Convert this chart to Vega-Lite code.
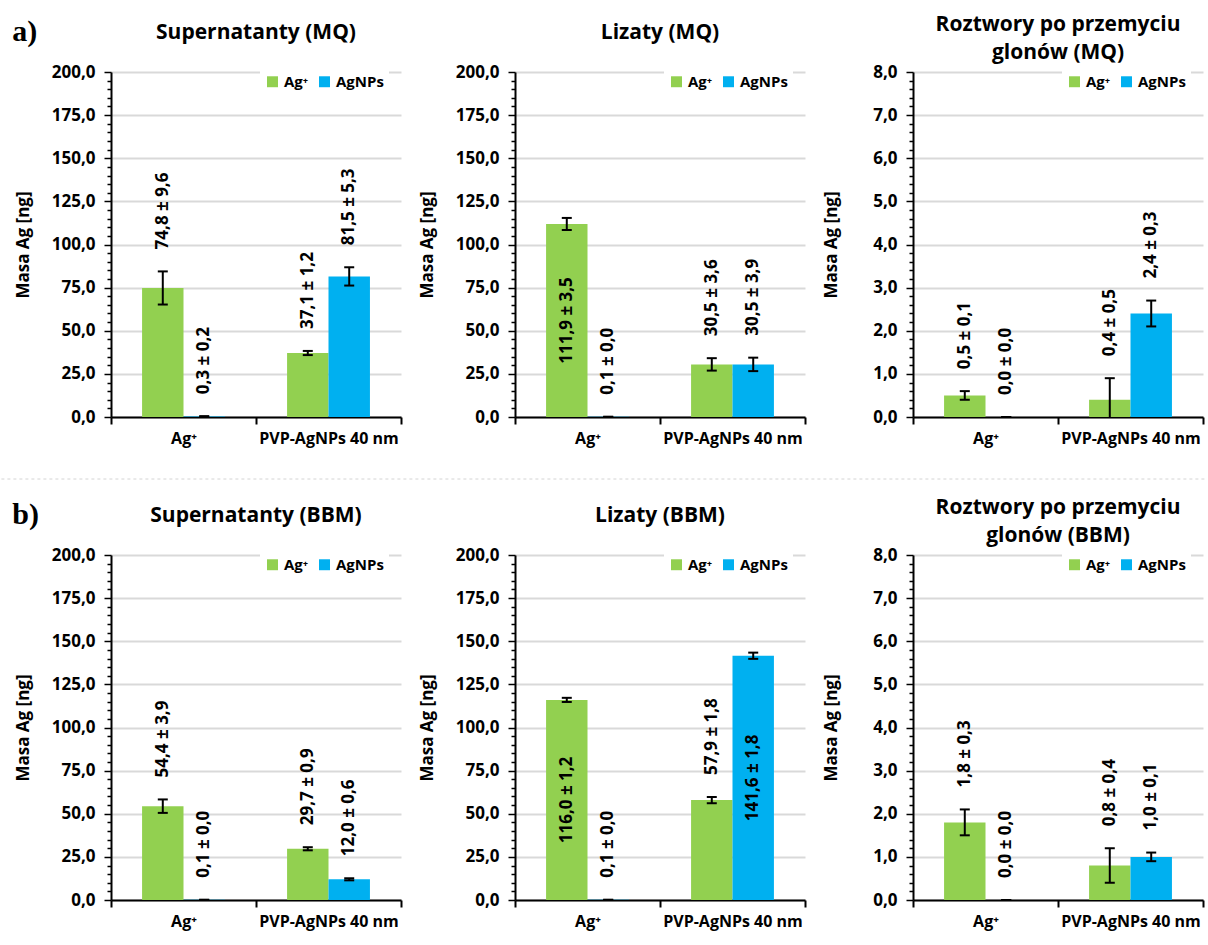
{
  "$schema": "https://vega.github.io/schema/vega-lite/v6.json",
  "padding": {"left": 0, "top": 14, "right": 2, "bottom": 2},
  "background": "white",
  "data": {
    "values": [
      {"panel": "a1", "group": "Ag⁺", "series": "Ag⁺", "value": 74.8, "err": 9.6},
      {"panel": "a1", "group": "Ag⁺", "series": "AgNPs", "value": 0.3, "err": 0.2},
      {"panel": "a1", "group": "PVP-AgNPs 40 nm", "series": "Ag⁺", "value": 37.1, "err": 1.2},
      {"panel": "a1", "group": "PVP-AgNPs 40 nm", "series": "AgNPs", "value": 81.5, "err": 5.3},
      {"panel": "a2", "group": "Ag⁺", "series": "Ag⁺", "value": 111.9, "err": 3.5},
      {"panel": "a2", "group": "Ag⁺", "series": "AgNPs", "value": 0.1, "err": 0.0},
      {"panel": "a2", "group": "PVP-AgNPs 40 nm", "series": "Ag⁺", "value": 30.5, "err": 3.6},
      {"panel": "a2", "group": "PVP-AgNPs 40 nm", "series": "AgNPs", "value": 30.5, "err": 3.9},
      {"panel": "a3", "group": "Ag⁺", "series": "Ag⁺", "value": 0.5, "err": 0.1},
      {"panel": "a3", "group": "Ag⁺", "series": "AgNPs", "value": 0.0, "err": 0.0},
      {"panel": "a3", "group": "PVP-AgNPs 40 nm", "series": "Ag⁺", "value": 0.4, "err": 0.5},
      {"panel": "a3", "group": "PVP-AgNPs 40 nm", "series": "AgNPs", "value": 2.4, "err": 0.3},
      {"panel": "b1", "group": "Ag⁺", "series": "Ag⁺", "value": 54.4, "err": 3.9},
      {"panel": "b1", "group": "Ag⁺", "series": "AgNPs", "value": 0.1, "err": 0.0},
      {"panel": "b1", "group": "PVP-AgNPs 40 nm", "series": "Ag⁺", "value": 29.7, "err": 0.9},
      {"panel": "b1", "group": "PVP-AgNPs 40 nm", "series": "AgNPs", "value": 12.0, "err": 0.6},
      {"panel": "b2", "group": "Ag⁺", "series": "Ag⁺", "value": 116.0, "err": 1.2},
      {"panel": "b2", "group": "Ag⁺", "series": "AgNPs", "value": 0.1, "err": 0.0},
      {"panel": "b2", "group": "PVP-AgNPs 40 nm", "series": "Ag⁺", "value": 57.9, "err": 1.8},
      {"panel": "b2", "group": "PVP-AgNPs 40 nm", "series": "AgNPs", "value": 141.6, "err": 1.8},
      {"panel": "b3", "group": "Ag⁺", "series": "Ag⁺", "value": 1.8, "err": 0.3},
      {"panel": "b3", "group": "Ag⁺", "series": "AgNPs", "value": 0.0, "err": 0.0},
      {"panel": "b3", "group": "PVP-AgNPs 40 nm", "series": "Ag⁺", "value": 0.8, "err": 0.4},
      {"panel": "b3", "group": "PVP-AgNPs 40 nm", "series": "AgNPs", "value": 1.0, "err": 0.1}
    ]
  },
  "columns": 1,
  "align": "none",
  "spacing": 17,
  "resolve": {"scale": {"color": "independent", "x": "independent", "y": "independent"}, "legend": {"color": "independent"}},
  "concat": [
    {
      "title": {"text": "a)", "anchor": "start", "frame": "bounds", "orient": "top", "offset": -33, "font": "Liberation Serif", "fontSize": 30, "fontWeight": "bold", "color": "black", "dx": -2},
      "spacing": 16,
      "resolve": {"scale": {"color": "independent"}, "legend": {"color": "independent"}},
      "hconcat": [
        {
          "title": "Supernatanty (MQ)",
          "width": 290, "height": 345,
          "transform": [
            {"filter": "datum.panel === 'a1'"},
            {"calculate": "datum.value + datum.err", "as": "upper"},
            {"calculate": "datum.value - datum.err", "as": "lower"},
            {"calculate": "datum.value / 2", "as": "mid"},
            {"calculate": "replace(format(datum.value, '.1f'), '.', ',') + ' ± ' + replace(format(datum.err, '.1f'), '.', ',')", "as": "label"}
          ],
          "encoding": {
            "x": {"field": "group", "type": "nominal", "sort": ["Ag⁺", "PVP-AgNPs 40 nm"], "scale": {"paddingInner": 0, "paddingOuter": 0}, "axis": {"title": null}},
            "xOffset": {"field": "series", "type": "nominal", "sort": ["Ag⁺", "AgNPs"], "scale": {"paddingInner": 0, "paddingOuter": 0.75}}
          },
          "layer": [
            {"mark": {"type": "bar"}, "encoding": {
              "y": {"field": "value", "type": "quantitative", "title": "Masa Ag [ng]", "scale": {"domain": [0, 200], "nice": false},
                "axis": {"tickCount": 40, "labelOverlap": false, "labelFlush": false,
                  "labelExpr": "datum.value % 25 === 0 ? replace(format(datum.value, '.1f'), '.', ',') : ''",
                  "tickSize": {"condition": {"test": "datum.value % 25 === 0", "value": 7}, "value": 4},
                  "gridOpacity": {"condition": {"test": "datum.value % 25 === 0", "value": 1}, "value": 0}}},
              "color": {"field": "series", "type": "nominal", "scale": {"domain": ["Ag⁺", "AgNPs"], "range": ["#92D050", "#00B0F0"]}, "legend": {"title": null}}}},
            {"mark": {"type": "rule", "color": "black", "strokeWidth": 2, "clip": true}, "encoding": {"y": {"field": "lower", "type": "quantitative", "title": "Masa Ag [ng]"}, "y2": {"field": "upper"}}},
            {"mark": {"type": "tick", "color": "black", "thickness": 2, "size": 10, "opacity": 1, "clip": true}, "encoding": {"y": {"field": "upper", "type": "quantitative", "title": "Masa Ag [ng]"}}},
            {"mark": {"type": "tick", "color": "black", "thickness": 2, "size": 10, "opacity": 1, "clip": true}, "encoding": {"y": {"field": "lower", "type": "quantitative", "title": "Masa Ag [ng]"}}},
            {"transform": [{"filter": "datum.value <= 100"}], "mark": {"type": "text", "angle": 270, "align": "left", "baseline": "middle", "dx": 22, "fontSize": 17, "fontWeight": "bold", "color": "black"}, "encoding": {"y": {"field": "upper", "type": "quantitative", "title": "Masa Ag [ng]"}, "text": {"field": "label"}}},
            {"transform": [{"filter": "datum.value > 100"}], "mark": {"type": "text", "angle": 270, "align": "center", "baseline": "middle", "fontSize": 17, "fontWeight": "bold", "color": "black"}, "encoding": {"y": {"field": "mid", "type": "quantitative", "title": "Masa Ag [ng]"}, "text": {"field": "label"}}}
          ]
        },
        {
          "title": "Lizaty (MQ)",
          "width": 290, "height": 345,
          "transform": [
            {"filter": "datum.panel === 'a2'"},
            {"calculate": "datum.value + datum.err", "as": "upper"},
            {"calculate": "datum.value - datum.err", "as": "lower"},
            {"calculate": "datum.value / 2", "as": "mid"},
            {"calculate": "replace(format(datum.value, '.1f'), '.', ',') + ' ± ' + replace(format(datum.err, '.1f'), '.', ',')", "as": "label"}
          ],
          "encoding": {
            "x": {"field": "group", "type": "nominal", "sort": ["Ag⁺", "PVP-AgNPs 40 nm"], "scale": {"paddingInner": 0, "paddingOuter": 0}, "axis": {"title": null}},
            "xOffset": {"field": "series", "type": "nominal", "sort": ["Ag⁺", "AgNPs"], "scale": {"paddingInner": 0, "paddingOuter": 0.75}}
          },
          "layer": [
            {"mark": {"type": "bar"}, "encoding": {
              "y": {"field": "value", "type": "quantitative", "title": "Masa Ag [ng]", "scale": {"domain": [0, 200], "nice": false},
                "axis": {"tickCount": 40, "labelOverlap": false, "labelFlush": false,
                  "labelExpr": "datum.value % 25 === 0 ? replace(format(datum.value, '.1f'), '.', ',') : ''",
                  "tickSize": {"condition": {"test": "datum.value % 25 === 0", "value": 7}, "value": 4},
                  "gridOpacity": {"condition": {"test": "datum.value % 25 === 0", "value": 1}, "value": 0}}},
              "color": {"field": "series", "type": "nominal", "scale": {"domain": ["Ag⁺", "AgNPs"], "range": ["#92D050", "#00B0F0"]}, "legend": {"title": null}}}},
            {"mark": {"type": "rule", "color": "black", "strokeWidth": 2, "clip": true}, "encoding": {"y": {"field": "lower", "type": "quantitative", "title": "Masa Ag [ng]"}, "y2": {"field": "upper"}}},
            {"mark": {"type": "tick", "color": "black", "thickness": 2, "size": 10, "opacity": 1, "clip": true}, "encoding": {"y": {"field": "upper", "type": "quantitative", "title": "Masa Ag [ng]"}}},
            {"mark": {"type": "tick", "color": "black", "thickness": 2, "size": 10, "opacity": 1, "clip": true}, "encoding": {"y": {"field": "lower", "type": "quantitative", "title": "Masa Ag [ng]"}}},
            {"transform": [{"filter": "datum.value <= 100"}], "mark": {"type": "text", "angle": 270, "align": "left", "baseline": "middle", "dx": 22, "fontSize": 17, "fontWeight": "bold", "color": "black"}, "encoding": {"y": {"field": "upper", "type": "quantitative", "title": "Masa Ag [ng]"}, "text": {"field": "label"}}},
            {"transform": [{"filter": "datum.value > 100"}], "mark": {"type": "text", "angle": 270, "align": "center", "baseline": "middle", "fontSize": 17, "fontWeight": "bold", "color": "black"}, "encoding": {"y": {"field": "mid", "type": "quantitative", "title": "Masa Ag [ng]"}, "text": {"field": "label"}}}
          ]
        },
        {
          "title": {"text": ["Roztwory po przemyciu", "glonów (MQ)"], "offset": 0},
          "width": 290, "height": 345,
          "transform": [
            {"filter": "datum.panel === 'a3'"},
            {"calculate": "datum.value + datum.err", "as": "upper"},
            {"calculate": "datum.value - datum.err", "as": "lower"},
            {"calculate": "datum.value / 2", "as": "mid"},
            {"calculate": "replace(format(datum.value, '.1f'), '.', ',') + ' ± ' + replace(format(datum.err, '.1f'), '.', ',')", "as": "label"}
          ],
          "encoding": {
            "x": {"field": "group", "type": "nominal", "sort": ["Ag⁺", "PVP-AgNPs 40 nm"], "scale": {"paddingInner": 0, "paddingOuter": 0}, "axis": {"title": null}},
            "xOffset": {"field": "series", "type": "nominal", "sort": ["Ag⁺", "AgNPs"], "scale": {"paddingInner": 0, "paddingOuter": 0.75}}
          },
          "layer": [
            {"mark": {"type": "bar"}, "encoding": {
              "y": {"field": "value", "type": "quantitative", "title": "Masa Ag [ng]", "scale": {"domain": [0, 8], "nice": false},
                "axis": {"tickCount": 40, "labelOverlap": false, "labelFlush": false, "titlePadding": 32,
                  "labelExpr": "abs(datum.value - round(datum.value)) < 0.001 ? replace(format(datum.value, '.1f'), '.', ',') : ''",
                  "tickSize": {"condition": {"test": "abs(datum.value - round(datum.value)) < 0.001", "value": 7}, "value": 4},
                  "gridOpacity": {"condition": {"test": "abs(datum.value - round(datum.value)) < 0.001", "value": 1}, "value": 0}}},
              "color": {"field": "series", "type": "nominal", "scale": {"domain": ["Ag⁺", "AgNPs"], "range": ["#92D050", "#00B0F0"]}, "legend": {"title": null}}}},
            {"mark": {"type": "rule", "color": "black", "strokeWidth": 2, "clip": true}, "encoding": {"y": {"field": "lower", "type": "quantitative", "title": "Masa Ag [ng]"}, "y2": {"field": "upper"}}},
            {"mark": {"type": "tick", "color": "black", "thickness": 2, "size": 10, "opacity": 1, "clip": true}, "encoding": {"y": {"field": "upper", "type": "quantitative", "title": "Masa Ag [ng]"}}},
            {"mark": {"type": "tick", "color": "black", "thickness": 2, "size": 10, "opacity": 1, "clip": true}, "encoding": {"y": {"field": "lower", "type": "quantitative", "title": "Masa Ag [ng]"}}},
            {"transform": [{"filter": "datum.value <= 100"}], "mark": {"type": "text", "angle": 270, "align": "left", "baseline": "middle", "dx": 22, "fontSize": 17, "fontWeight": "bold", "color": "black"}, "encoding": {"y": {"field": "upper", "type": "quantitative", "title": "Masa Ag [ng]"}, "text": {"field": "label"}}}
          ]
        }
      ]
    },
    {
      "width": 1096, "height": 16,
      "data": {"values": [{"start": -0.1, "end": 1.0, "v": 0}]},
      "mark": {"type": "rule", "color": "#d4d4d4", "strokeWidth": 1, "strokeDash": [3, 3]},
      "encoding": {
        "x": {"field": "start", "type": "quantitative", "scale": {"domain": [0, 1], "nice": false, "zero": false}, "axis": null},
        "x2": {"field": "end"},
        "y": {"field": "v", "type": "quantitative", "scale": {"domain": [0, 1]}, "axis": null}
      }
    },
    {
      "title": {"text": "b)", "anchor": "start", "frame": "bounds", "orient": "top", "offset": -33, "font": "Liberation Serif", "fontSize": 30, "fontWeight": "bold", "color": "black", "dx": -2},
      "spacing": 16,
      "resolve": {"scale": {"color": "independent"}, "legend": {"color": "independent"}},
      "hconcat": [
        {
          "title": "Supernatanty (BBM)",
          "width": 290, "height": 345,
          "transform": [
            {"filter": "datum.panel === 'b1'"},
            {"calculate": "datum.value + datum.err", "as": "upper"},
            {"calculate": "datum.value - datum.err", "as": "lower"},
            {"calculate": "datum.value / 2", "as": "mid"},
            {"calculate": "replace(format(datum.value, '.1f'), '.', ',') + ' ± ' + replace(format(datum.err, '.1f'), '.', ',')", "as": "label"}
          ],
          "encoding": {
            "x": {"field": "group", "type": "nominal", "sort": ["Ag⁺", "PVP-AgNPs 40 nm"], "scale": {"paddingInner": 0, "paddingOuter": 0}, "axis": {"title": null}},
            "xOffset": {"field": "series", "type": "nominal", "sort": ["Ag⁺", "AgNPs"], "scale": {"paddingInner": 0, "paddingOuter": 0.75}}
          },
          "layer": [
            {"mark": {"type": "bar"}, "encoding": {
              "y": {"field": "value", "type": "quantitative", "title": "Masa Ag [ng]", "scale": {"domain": [0, 200], "nice": false},
                "axis": {"tickCount": 40, "labelOverlap": false, "labelFlush": false,
                  "labelExpr": "datum.value % 25 === 0 ? replace(format(datum.value, '.1f'), '.', ',') : ''",
                  "tickSize": {"condition": {"test": "datum.value % 25 === 0", "value": 7}, "value": 4},
                  "gridOpacity": {"condition": {"test": "datum.value % 25 === 0", "value": 1}, "value": 0}}},
              "color": {"field": "series", "type": "nominal", "scale": {"domain": ["Ag⁺", "AgNPs"], "range": ["#92D050", "#00B0F0"]}, "legend": {"title": null}}}},
            {"mark": {"type": "rule", "color": "black", "strokeWidth": 2, "clip": true}, "encoding": {"y": {"field": "lower", "type": "quantitative", "title": "Masa Ag [ng]"}, "y2": {"field": "upper"}}},
            {"mark": {"type": "tick", "color": "black", "thickness": 2, "size": 10, "opacity": 1, "clip": true}, "encoding": {"y": {"field": "upper", "type": "quantitative", "title": "Masa Ag [ng]"}}},
            {"mark": {"type": "tick", "color": "black", "thickness": 2, "size": 10, "opacity": 1, "clip": true}, "encoding": {"y": {"field": "lower", "type": "quantitative", "title": "Masa Ag [ng]"}}},
            {"transform": [{"filter": "datum.value <= 100"}], "mark": {"type": "text", "angle": 270, "align": "left", "baseline": "middle", "dx": 22, "fontSize": 17, "fontWeight": "bold", "color": "black"}, "encoding": {"y": {"field": "upper", "type": "quantitative", "title": "Masa Ag [ng]"}, "text": {"field": "label"}}}
          ]
        },
        {
          "title": "Lizaty (BBM)",
          "width": 290, "height": 345,
          "transform": [
            {"filter": "datum.panel === 'b2'"},
            {"calculate": "datum.value + datum.err", "as": "upper"},
            {"calculate": "datum.value - datum.err", "as": "lower"},
            {"calculate": "datum.value / 2", "as": "mid"},
            {"calculate": "replace(format(datum.value, '.1f'), '.', ',') + ' ± ' + replace(format(datum.err, '.1f'), '.', ',')", "as": "label"}
          ],
          "encoding": {
            "x": {"field": "group", "type": "nominal", "sort": ["Ag⁺", "PVP-AgNPs 40 nm"], "scale": {"paddingInner": 0, "paddingOuter": 0}, "axis": {"title": null}},
            "xOffset": {"field": "series", "type": "nominal", "sort": ["Ag⁺", "AgNPs"], "scale": {"paddingInner": 0, "paddingOuter": 0.75}}
          },
          "layer": [
            {"mark": {"type": "bar"}, "encoding": {
              "y": {"field": "value", "type": "quantitative", "title": "Masa Ag [ng]", "scale": {"domain": [0, 200], "nice": false},
                "axis": {"tickCount": 40, "labelOverlap": false, "labelFlush": false,
                  "labelExpr": "datum.value % 25 === 0 ? replace(format(datum.value, '.1f'), '.', ',') : ''",
                  "tickSize": {"condition": {"test": "datum.value % 25 === 0", "value": 7}, "value": 4},
                  "gridOpacity": {"condition": {"test": "datum.value % 25 === 0", "value": 1}, "value": 0}}},
              "color": {"field": "series", "type": "nominal", "scale": {"domain": ["Ag⁺", "AgNPs"], "range": ["#92D050", "#00B0F0"]}, "legend": {"title": null}}}},
            {"mark": {"type": "rule", "color": "black", "strokeWidth": 2, "clip": true}, "encoding": {"y": {"field": "lower", "type": "quantitative", "title": "Masa Ag [ng]"}, "y2": {"field": "upper"}}},
            {"mark": {"type": "tick", "color": "black", "thickness": 2, "size": 10, "opacity": 1, "clip": true}, "encoding": {"y": {"field": "upper", "type": "quantitative", "title": "Masa Ag [ng]"}}},
            {"mark": {"type": "tick", "color": "black", "thickness": 2, "size": 10, "opacity": 1, "clip": true}, "encoding": {"y": {"field": "lower", "type": "quantitative", "title": "Masa Ag [ng]"}}},
            {"transform": [{"filter": "datum.value <= 100"}], "mark": {"type": "text", "angle": 270, "align": "left", "baseline": "middle", "dx": 22, "fontSize": 17, "fontWeight": "bold", "color": "black"}, "encoding": {"y": {"field": "upper", "type": "quantitative", "title": "Masa Ag [ng]"}, "text": {"field": "label"}}},
            {"transform": [{"filter": "datum.value > 100"}], "mark": {"type": "text", "angle": 270, "align": "center", "baseline": "middle", "fontSize": 17, "fontWeight": "bold", "color": "black"}, "encoding": {"y": {"field": "mid", "type": "quantitative", "title": "Masa Ag [ng]"}, "text": {"field": "label"}}}
          ]
        },
        {
          "title": {"text": ["Roztwory po przemyciu", "glonów (BBM)"], "offset": 0},
          "width": 290, "height": 345,
          "transform": [
            {"filter": "datum.panel === 'b3'"},
            {"calculate": "datum.value + datum.err", "as": "upper"},
            {"calculate": "datum.value - datum.err", "as": "lower"},
            {"calculate": "datum.value / 2", "as": "mid"},
            {"calculate": "replace(format(datum.value, '.1f'), '.', ',') + ' ± ' + replace(format(datum.err, '.1f'), '.', ',')", "as": "label"}
          ],
          "encoding": {
            "x": {"field": "group", "type": "nominal", "sort": ["Ag⁺", "PVP-AgNPs 40 nm"], "scale": {"paddingInner": 0, "paddingOuter": 0}, "axis": {"title": null}},
            "xOffset": {"field": "series", "type": "nominal", "sort": ["Ag⁺", "AgNPs"], "scale": {"paddingInner": 0, "paddingOuter": 0.75}}
          },
          "layer": [
            {"mark": {"type": "bar"}, "encoding": {
              "y": {"field": "value", "type": "quantitative", "title": "Masa Ag [ng]", "scale": {"domain": [0, 8], "nice": false},
                "axis": {"tickCount": 40, "labelOverlap": false, "labelFlush": false, "titlePadding": 32,
                  "labelExpr": "abs(datum.value - round(datum.value)) < 0.001 ? replace(format(datum.value, '.1f'), '.', ',') : ''",
                  "tickSize": {"condition": {"test": "abs(datum.value - round(datum.value)) < 0.001", "value": 7}, "value": 4},
                  "gridOpacity": {"condition": {"test": "abs(datum.value - round(datum.value)) < 0.001", "value": 1}, "value": 0}}},
              "color": {"field": "series", "type": "nominal", "scale": {"domain": ["Ag⁺", "AgNPs"], "range": ["#92D050", "#00B0F0"]}, "legend": {"title": null}}}},
            {"mark": {"type": "rule", "color": "black", "strokeWidth": 2, "clip": true}, "encoding": {"y": {"field": "lower", "type": "quantitative", "title": "Masa Ag [ng]"}, "y2": {"field": "upper"}}},
            {"mark": {"type": "tick", "color": "black", "thickness": 2, "size": 10, "opacity": 1, "clip": true}, "encoding": {"y": {"field": "upper", "type": "quantitative", "title": "Masa Ag [ng]"}}},
            {"mark": {"type": "tick", "color": "black", "thickness": 2, "size": 10, "opacity": 1, "clip": true}, "encoding": {"y": {"field": "lower", "type": "quantitative", "title": "Masa Ag [ng]"}}},
            {"transform": [{"filter": "datum.value <= 100"}], "mark": {"type": "text", "angle": 270, "align": "left", "baseline": "middle", "dx": 22, "fontSize": 17, "fontWeight": "bold", "color": "black"}, "encoding": {"y": {"field": "upper", "type": "quantitative", "title": "Masa Ag [ng]"}, "text": {"field": "label"}}}
          ]
        }
      ]
    }
  ],
  "config": {
    "font": "Open Sans",
    "view": {"stroke": null},
    "title": {"font": "Open Sans", "fontSize": 21, "fontWeight": "bold", "color": "black", "offset": 20, "lineHeight": 28},
    "axisX": {"domainColor": "black", "domainWidth": 2, "tickBand": "extent", "tickSize": 7, "tickWidth": 2, "tickColor": "black", "labelAngle": 0, "labelFont": "Open Sans", "labelFontSize": 16, "labelFontWeight": "bold", "labelColor": "black", "labelPadding": 6, "grid": false},
    "axisY": {"domainColor": "black", "domainWidth": 2, "tickColor": "black", "tickWidth": 1.5, "gridColor": "#D9D9D9", "gridWidth": 2, "labelFont": "Open Sans", "labelFontSize": 17, "labelFontWeight": "bold", "labelColor": "black", "labelPadding": 9, "titleFont": "Open Sans", "titleFontSize": 17, "titleFontWeight": "bold", "titleColor": "black", "titlePadding": 19},
    "legend": {"orient": "none", "legendX": 149, "legendY": -3, "direction": "horizontal", "fillColor": "white", "padding": 5, "symbolType": "square", "symbolSize": 120, "symbolStrokeWidth": 0, "labelFont": "Open Sans", "labelFontSize": 15, "labelFontWeight": "bold", "labelColor": "black", "columnPadding": 8, "labelOffset": 4}
  }
}
